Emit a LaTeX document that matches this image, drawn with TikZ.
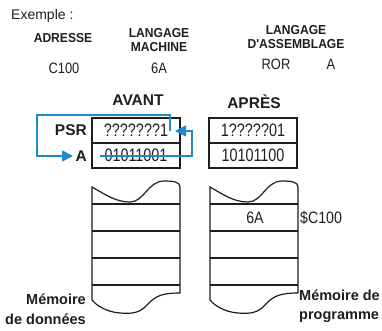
\documentclass[tikz,border=0pt]{standalone}
\usepackage{fontspec}
\setmainfont{Liberation Sans}
\newfontfamily\narrowsf{Liberation Sans}[FakeStretch=0.86]
\newfontfamily\regsf{Liberation Sans}[FakeStretch=0.8]
\newfontfamily\headsf{Liberation Sans}[FakeStretch=0.93]
\usetikzlibrary{arrows.meta, positioning}
\definecolor{flowblue}{RGB}{28,138,204}
\definecolor{ink}{RGB}{30,30,30}
\tikzset{
  head/.style={
    font=\headsf\fontsize{13}{14.5}\selectfont\bfseries,
    align=center, text=ink, inner sep=0pt
  },
  val/.style={
    font=\narrowsf\fontsize{15}{16}\selectfont,
    text=ink, inner sep=0pt
  },
  title/.style={
    font=\fontsize{15.5}{17}\selectfont\bfseries,
    text=ink, inner sep=0pt
  },
  reg/.style={
    rectangle, draw=ink, line width=1.2pt,
    minimum width=88pt, minimum height=25pt,
    inner sep=0pt, outer sep=0pt,
    font=\regsf\fontsize{18}{19}\selectfont, text=ink
  },
  regname/.style={
    font=\fontsize{15.5}{17}\selectfont\bfseries,
    text=ink, anchor=east, inner sep=0pt
  },
  memlabel/.style={
    font=\fontsize{14.5}{19.5}\selectfont\bfseries,
    text=ink, inner sep=0pt
  },
  flow/.style={draw=flowblue, line width=1.7pt,
    -{Triangle[length=11pt,width=11pt]}},
  mem/.style={draw=ink, line width=1.2pt},
}
\begin{document}
\begin{tikzpicture}[x=1pt, y=-1pt, node distance=0pt]
  \useasboundingbox (0,0) rectangle (382,330);

  \node[font=\fontsize{14}{16}\selectfont, text=ink, anchor=west,
    inner sep=0pt] (ex) at (11,16) {Exemple :};

  \node[head] (adr) at (63,38) {ADRESSE};
  \node[head] (lm) at (159,40) {LANGAGE\\MACHINE};
  \node[head] (la) at (296,37) {LANGAGE\\D'ASSEMBLAGE};

  \node[val] (adrv) at (64,68) {C100};
  \node[val] (lmv) at (159,68) {6A};
  \node[val] (lop) at (276,64) {ROR};
  \node[val] (larg) at (331,64) {A};

  \node[title] (avant) at (138,100) {AVANT};
  \node[title] (apres) at (254,102) {APRÈS};

  \node[reg] (psrav) at (136,130.5) {???????1};
  \node[reg, below=of psrav] (aav) {01011001};
  \node[reg] (psrap) at (253,130.5) {1?????01};
  \node[reg, below=of psrap] (aap) {10101100};

  \node[regname] (psrn) at (87,130) {PSR};
  \node[regname] (an) at (87,156) {A};

  % memoires
  \foreach \mx in {92,210} {
    \draw[mem] (\mx,187) .. controls (\mx+14,195) and (\mx+24,202) .. (\mx+38,202)
      .. controls (\mx+52,202) and (\mx+56,181) .. (\mx+72,181)
      .. controls (\mx+82,181) and (\mx+88,182) .. (\mx+88,187)
      -- (\mx+88,293)
      .. controls (\mx+70,293) and (\mx+63,296) .. (\mx+55,305)
      .. controls (\mx+48,313) and (\mx+40,314) .. (\mx+28,313)
      .. controls (\mx+15,312) and (\mx+5,306) .. (\mx,300) -- cycle;
    \foreach \ly in {204,231,258,285}
      \draw[mem] (\mx,\ly) -- (\mx+88,\ly);
  }

  \node[val, font=\narrowsf\fontsize{16.5}{18}\selectfont] (cell) at (255,218) {6A};
  \node[val, font=\narrowsf\fontsize{16.5}{18}\selectfont, anchor=west]
    (celladr) at (300,218) {\$C100};

  \node[memlabel, align=right, anchor=east] (memd) at (86,309)
    {Mémoire\\de données};
  \node[memlabel, align=left, anchor=west] (memp) at (299,306)
    {Mémoire de\\programme};

  \coordinate (astart) at (100,156);
  \coordinate (loopr) at (192,131);
  \coordinate (psrbit) at (175,131);
  \coordinate (psrtop) at (170,131);
  \coordinate (loopl) at (37,115);
  \coordinate (aend) at (73,156);

  \draw[flow] (astart) -| (loopr) -- (psrbit);
  \draw[flow] (psrtop) |- (loopl) |- (aend);
\end{tikzpicture}
\end{document}
